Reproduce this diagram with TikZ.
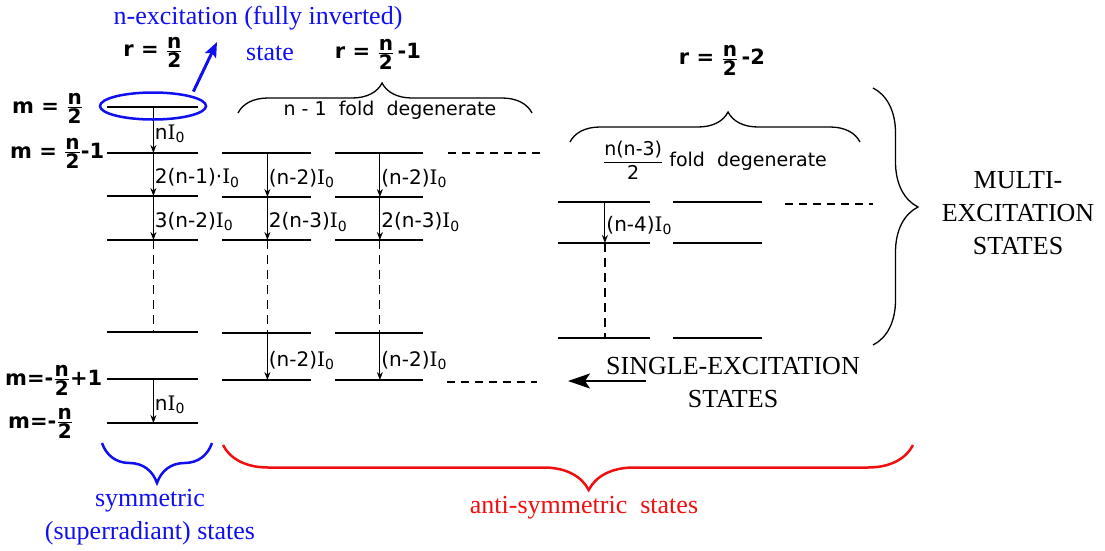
\documentclass[tikz,border=0pt]{standalone}
\usepackage{amsmath}
\usepackage{fontspec}
\setmainfont{Liberation Serif}
\newfontfamily\figfont{DejaVu Sans}
\newfontfamily\figserif{DejaVu Serif}
\usetikzlibrary{arrows.meta, shapes.geometric, decorations.pathreplacing}
\definecolor{symblue}{RGB}{15,15,240}
\definecolor{antired}{RGB}{240,15,15}
\newcommand{\Io}{{\figserif I}\textsubscript{0}}
\newcommand{\nfr}{$\frac{\hbox{\fontsize{20}{20}\selectfont n}}{\hbox{\fontsize{20}{20}\selectfont 2}}$}
\tikzset{
	lvl/.style={line width=2.2pt},
	tr/.style={-{Stealth[length=8pt,width=6pt]}, line width=1.1pt},
	vgap/.style={line width=1.2pt, dash pattern=on 9pt off 6pt},
	hgap/.style={line width=1.3pt, dash pattern=on 8pt off 6pt},
	lab/.style={font=\figfont\fontsize{20}{24}\selectfont, anchor=west, pos=.58, inner sep=1pt},
	mlab/.style={font=\figfont\bfseries\fontsize{21}{25}\selectfont, anchor=base west, inner sep=0pt},
	deg/.style={font=\figfont\fontsize{19}{23}\selectfont, inner sep=0pt},
	capt/.style={font=\fontsize{26}{33}\selectfont, align=center, inner sep=0pt},
	brc/.style={decorate, line width=1.3pt},
}

\begin{document}
\begin{tikzpicture}[x=1pt, y=-1pt]
	\useasboundingbox (0,0) rectangle (1105,550);
	% levels
	\foreach \y [count=\i] in {107,153,196,240,332,379,423}
		\draw[lvl] (107,\y) -- coordinate[pos=.51] (s\i) (198,\y);
	\foreach \y [count=\i] in {153,197,240,333,380} {
		\draw[lvl] (222,\y) -- coordinate[pos=.51] (a\i) (311,\y);
		\draw[lvl] (335,\y) -- coordinate[pos=.51] (b\i) (423,\y);
	}
	\foreach \y [count=\i] in {202,243,338} {
		\draw[lvl] (558,\y) -- coordinate[pos=.51] (c\i) (650,\y);
		\draw[lvl] (673,\y) -- coordinate[pos=.51] (d\i) (762,\y);
	}
	\draw[hgap] (448,153) -- (540,153);
	\draw[hgap] (447,382) -- (537,382);
	\draw[hgap] (785,204) -- (873,204);
	% transitions
	\draw[tr] (s1) -- node[lab] {n\Io} (s2);
	\draw[tr] (s2) -- node[lab] {2(n-1)·\Io} (s3);
	\draw[tr] (s3) -- node[lab] {3(n-2)\Io} (s4);
	\draw[vgap] (s4) -- (s5);
	\draw[tr] (s6) -- node[lab] {n\Io} (s7);
	\foreach \c in {a,b} {
		\draw[tr] (\c1) -- node[lab] {(n-2)\Io} (\c2);
		\draw[tr] (\c2) -- node[lab] {2(n-3)\Io} (\c3);
		\draw[vgap] (\c3) -- (\c4);
		\draw[tr] (\c4) -- node[lab] {(n-2)\Io} (\c5);
	}
	\draw[tr] (c1) -- node[lab] {(n-4)\Io} (c2);
	\draw[vgap] (c2) -- (c3);
	% quantum numbers
	\node[mlab] (m1) at (12,113) {m = \nfr};
	\node[mlab] (m2) at (10,158) {m = \nfr-1};
	\node[mlab] (m3) at (5,385) {m=-\nfr+1};
	\node[mlab] (m4) at (8,428) {m=-\nfr};
	\node[mlab, anchor=center] (r1) at (153,52) {r = \nfr};
	\node[mlab, anchor=center] (r2) at (378,54) {r = \nfr\,-1};
	\node[mlab, anchor=center] (r3) at (722,60) {r = \nfr\,-2};
	% degeneracies
	\draw[brc, decoration={brace, amplitude=30pt, aspect=.49}] (238,113) -- (532,113);
	\node[deg] (dg1) at (390,110) {n - 1 \ fold \ degenerate};
	\draw[brc, decoration={brace, amplitude=30pt, aspect=.545}] (570,142) -- (860,142);
	\node[deg] (dg2) at (715,160) {$\dfrac{\text{n(n-3)}}{\text{2}}$ fold \ degenerate};
	\draw[brc, decoration={brace, amplitude=45pt, aspect=.463}] (873,88) -- (873,345);
	\node[capt] (multi) at (1018,213) {MULTI-\\EXCITATION\\STATES};
	\node[capt] (single) at (733,383) {SINGLE-EXCITATION\\STATES};
	\coordinate (stail) at (646,381);
	\coordinate (stip) at (568,381);
	\draw[line width=2pt, -{Stealth[length=22pt,width=15pt,inset=5pt]}] (stail) -- (stip);
	% fully inverted state
	\node[draw=symblue, line width=2.5pt, ellipse, minimum width=106pt, minimum height=27pt, inner sep=0pt] (full) at (153,106) {};
	\node[capt, text=symblue] (nexc) at (258,18) {n-excitation (fully inverted)};
	\node[capt, text=symblue] (stat) at (270,53) {state};
	\coordinate (btip) at (217,42);
	\draw[symblue, line width=3pt, -{Stealth[length=15pt,width=12pt,inset=3pt]}] ([shift={(2pt,4pt)}]full.north east) -- (btip);
	% symmetry classes
	\draw[brc, symblue, line width=2.5pt, decoration={brace, amplitude=40pt}] (212,443) -- (102,443);
	\node[capt, text=symblue] (symm) at (150,517) {symmetric\\(superradiant) states};
	\draw[brc, antired, line width=2.5pt, decoration={brace, amplitude=45pt, aspect=.47}] (913,445) -- (223,445);
	\node[capt, text=antired] (anti) at (584,508) {anti-symmetric\ \ states};
\end{tikzpicture}
\end{document}
